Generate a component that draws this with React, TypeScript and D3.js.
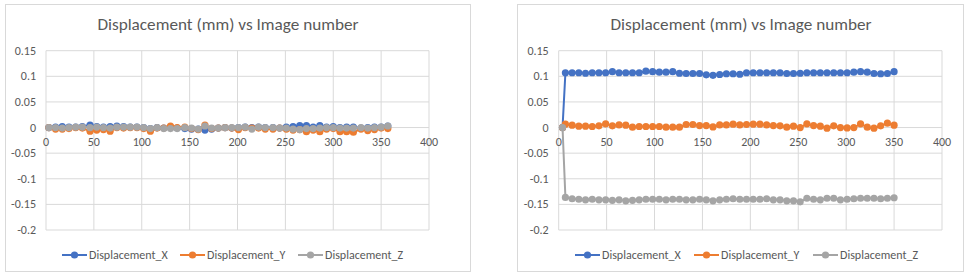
import * as d3 from 'd3';

const title = 'Displacement (mm) vs Image number';
const seriesNames = ['Displacement_X', 'Displacement_Y', 'Displacement_Z'];
const seriesColors = ['#4472C4', '#ED7D31', '#A5A5A5'];
const xTicks = [0, 50, 100, 150, 200, 250, 300, 350, 400];
const yTicks = [0.15, 0.1, 0.05, 0, -0.05, -0.1, -0.15, -0.2];
const yTickLabels = ['0.15', '0.1', '0.05', '0', '-0.05', '-0.1', '-0.15', '-0.2'];

// left chart (before offset)
const leftImage = [3, 10, 17, 24, 31, 38, 46, 53, 60, 67, 74, 81, 88, 95, 102, 109, 116, 123, 130, 137, 145, 152, 159, 166, 173, 180, 187, 194, 201, 208, 215, 222, 229, 237, 244, 251, 258, 265, 272, 279, 286, 293, 300, 307, 314, 321, 329, 336, 343, 350, 357];
const leftX = [0, 0.001, 0.002, 0.001, 0.001, 0.002, 0.005, 0.002, 0.001, 0.002, 0.003, 0.002, 0.001, 0.001, 0, -0.002, 0, -0.001, 0, -0.001, -0.002, -0.003, -0.003, -0.005, -0.003, -0.001, 0, -0.001, 0, 0.001, 0, 0.001, 0, 0, -0.001, 0.001, 0.002, 0.004, 0.004, 0.001, 0.004, 0.001, 0.002, 0, 0.001, 0.001, -0.001, 0, 0.001, 0.001, 0.003];
const leftY = [0, -0.003, -0.003, -0.002, 0, -0.001, -0.007, -0.005, -0.004, -0.007, 0, -0.001, 0, 0, -0.002, -0.007, -0.001, -0.001, 0.003, 0, 0.001, -0.002, -0.004, 0.005, -0.002, -0.001, 0, -0.001, -0.004, 0, -0.001, -0.001, -0.003, -0.003, -0.001, -0.003, -0.005, -0.004, -0.008, -0.005, -0.008, -0.003, -0.002, -0.008, -0.008, -0.009, -0.003, -0.006, -0.004, -0.001, -0.002];
const leftZ = [0, 0, -0.001, 0, 0.001, 0.001, 0, 0.001, 0, -0.001, 0.001, 0.001, 0.001, 0.001, 0, -0.002, 0, -0.002, -0.002, -0.002, 0, -0.001, -0.003, 0.003, -0.001, -0.001, 0, 0, 0, 0.001, -0.003, 0.001, 0, 0, -0.001, -0.001, -0.003, -0.004, -0.002, -0.002, -0.001, 0, 0, -0.001, -0.001, -0.001, 0, -0.001, 0, 0.001, 0.003];

// right chart (after offset)
const rightImage = [4, 7, 14, 21, 28, 35, 42, 49, 56, 63, 70, 77, 84, 91, 98, 105, 112, 119, 126, 133, 140, 147, 154, 161, 168, 175, 182, 189, 196, 203, 210, 217, 224, 231, 238, 245, 252, 259, 266, 273, 280, 287, 294, 301, 308, 315, 322, 329, 336, 343, 350];
const rightX = [0, 0.107, 0.107, 0.107, 0.106, 0.107, 0.107, 0.107, 0.109, 0.107, 0.107, 0.107, 0.107, 0.11, 0.109, 0.108, 0.108, 0.109, 0.106, 0.1055, 0.1055, 0.1055, 0.103, 0.102, 0.1035, 0.105, 0.105, 0.104, 0.107, 0.107, 0.107, 0.107, 0.107, 0.107, 0.1055, 0.1055, 0.106, 0.107, 0.107, 0.107, 0.107, 0.107, 0.107, 0.107, 0.108, 0.109, 0.108, 0.1055, 0.105, 0.1055, 0.109];
const rightY = [0, 0.0065, 0.0046, 0.0026, 0.0026, 0.002, 0.0033, 0.0072, 0.0033, 0.0052, 0.0046, 0.0007, 0.002, 0.002, 0.002, 0.002, 0.0007, 0.0007, 0.0007, 0.0059, 0.0059, 0.0039, 0.0039, 0.0013, 0.0052, 0.0052, 0.0065, 0.0052, 0.0059, 0.0065, 0.0065, 0.0052, 0.0039, 0.0033, 0.0007, 0.0026, 0, 0.0072, 0.0039, 0.0026, -0.0013, 0.0033, 0, -0.0007, 0, 0.0072, 0.0007, -0.0013, 0.0033, 0.0085, 0.0046];
const rightZ = [0, -0.1365, -0.139, -0.14, -0.141, -0.14, -0.141, -0.141, -0.142, -0.141, -0.143, -0.142, -0.141, -0.14, -0.14, -0.14, -0.141, -0.14, -0.14, -0.141, -0.141, -0.14, -0.141, -0.143, -0.141, -0.14, -0.139, -0.14, -0.14, -0.14, -0.14, -0.139, -0.141, -0.141, -0.143, -0.143, -0.145, -0.138, -0.14, -0.141, -0.138, -0.138, -0.141, -0.14, -0.139, -0.138, -0.138, -0.138, -0.139, -0.138, -0.137];

const FONT = 'Carlito, Calibri, Lato, sans-serif';
const TEXT = '#595959';
const GRID = '#D9D9D9';

interface ChartProps {
  x0: number;
  frameW: number;
  plotLeft: number;
  plotRight: number;
  titleX: number;
  legendX: number[];
  images: number[];
  series: number[][];
}

const Chart = ({ x0, frameW, plotLeft, plotRight, titleX, legendX, images, series }: ChartProps) => {
  const x = d3.scaleLinear().domain([0, 400]).range([plotLeft, plotRight]);
  const y = d3.scaleLinear().domain([-0.2, 0.15]).range([230, 50.7]);
  const line = d3.line<number>()
    .x((_, i) => x(images[i]))
    .y(d => y(d));

  return (
    <g transform={`translate(${x0},0)`}>
      <rect x={0.5} y={4.5} width={frameW} height={267} fill="#fff" stroke={GRID} />
      <text x={titleX} y={30} textAnchor="middle" fontFamily={FONT} fontSize={17.2} fill={TEXT}>
        {title}
      </text>
      {yTicks.map(t => (
        <line key={`h${t}`} x1={plotLeft} x2={plotRight} y1={y(t)} y2={y(t)} stroke={GRID} />
      ))}
      {xTicks.map(t => (
        <line key={`v${t}`} x1={x(t)} x2={x(t)} y1={y(0.15)} y2={y(-0.2)} stroke={GRID} />
      ))}
      {yTicks.map((t, i) => (
        <text key={`yl${t}`} x={plotLeft - 10} y={y(t) + 4} textAnchor="end" fontFamily={FONT} fontSize={12} fill={TEXT}>
          {yTickLabels[i]}
        </text>
      ))}
      {xTicks.map(t => (
        <text key={`xl${t}`} x={x(t)} y={y(0) + 18} textAnchor="middle" fontFamily={FONT} fontSize={12} fill={TEXT}>
          {t}
        </text>
      ))}
      {series.map((s, si) => (
        <g key={seriesNames[si]}>
          <path d={line(s) || ''} fill="none" stroke={seriesColors[si]} strokeWidth={2} />
          {s.map((v, i) => (
            <circle key={i} cx={x(images[i])} cy={y(v)} r={3.6} fill={seriesColors[si]} />
          ))}
        </g>
      ))}
      {seriesNames.map((name, si) => (
        <g key={`lg${name}`} transform={`translate(${legendX[si]},255)`}>
          <line x1={0} x2={25} y1={0} y2={0} stroke={seriesColors[si]} strokeWidth={2} />
          <circle cx={12.5} cy={0} r={3.6} fill={seriesColors[si]} />
          <text x={27} y={4} fontFamily={FONT} fontSize={12} fill={TEXT}>{name}</text>
        </g>
      ))}
    </g>
  );
};

export default function App() {
  return (
    <svg width={969} height={278} style={{ position: 'absolute', left: 0, top: 0, background: '#fff' }}>
      <Chart
        x0={5}
        frameW={465}
        plotLeft={41}
        plotRight={424}
        titleX={223}
        legendX={[57, 175, 293]}
        images={leftImage}
        series={[leftX, leftY, leftZ]}
      />
      <Chart
        x0={517}
        frameW={446}
        plotLeft={41.7}
        plotRight={425}
        titleX={224}
        legendX={[58, 177, 296]}
        images={rightImage}
        series={[rightX, rightY, rightZ]}
      />
    </svg>
  );
}
